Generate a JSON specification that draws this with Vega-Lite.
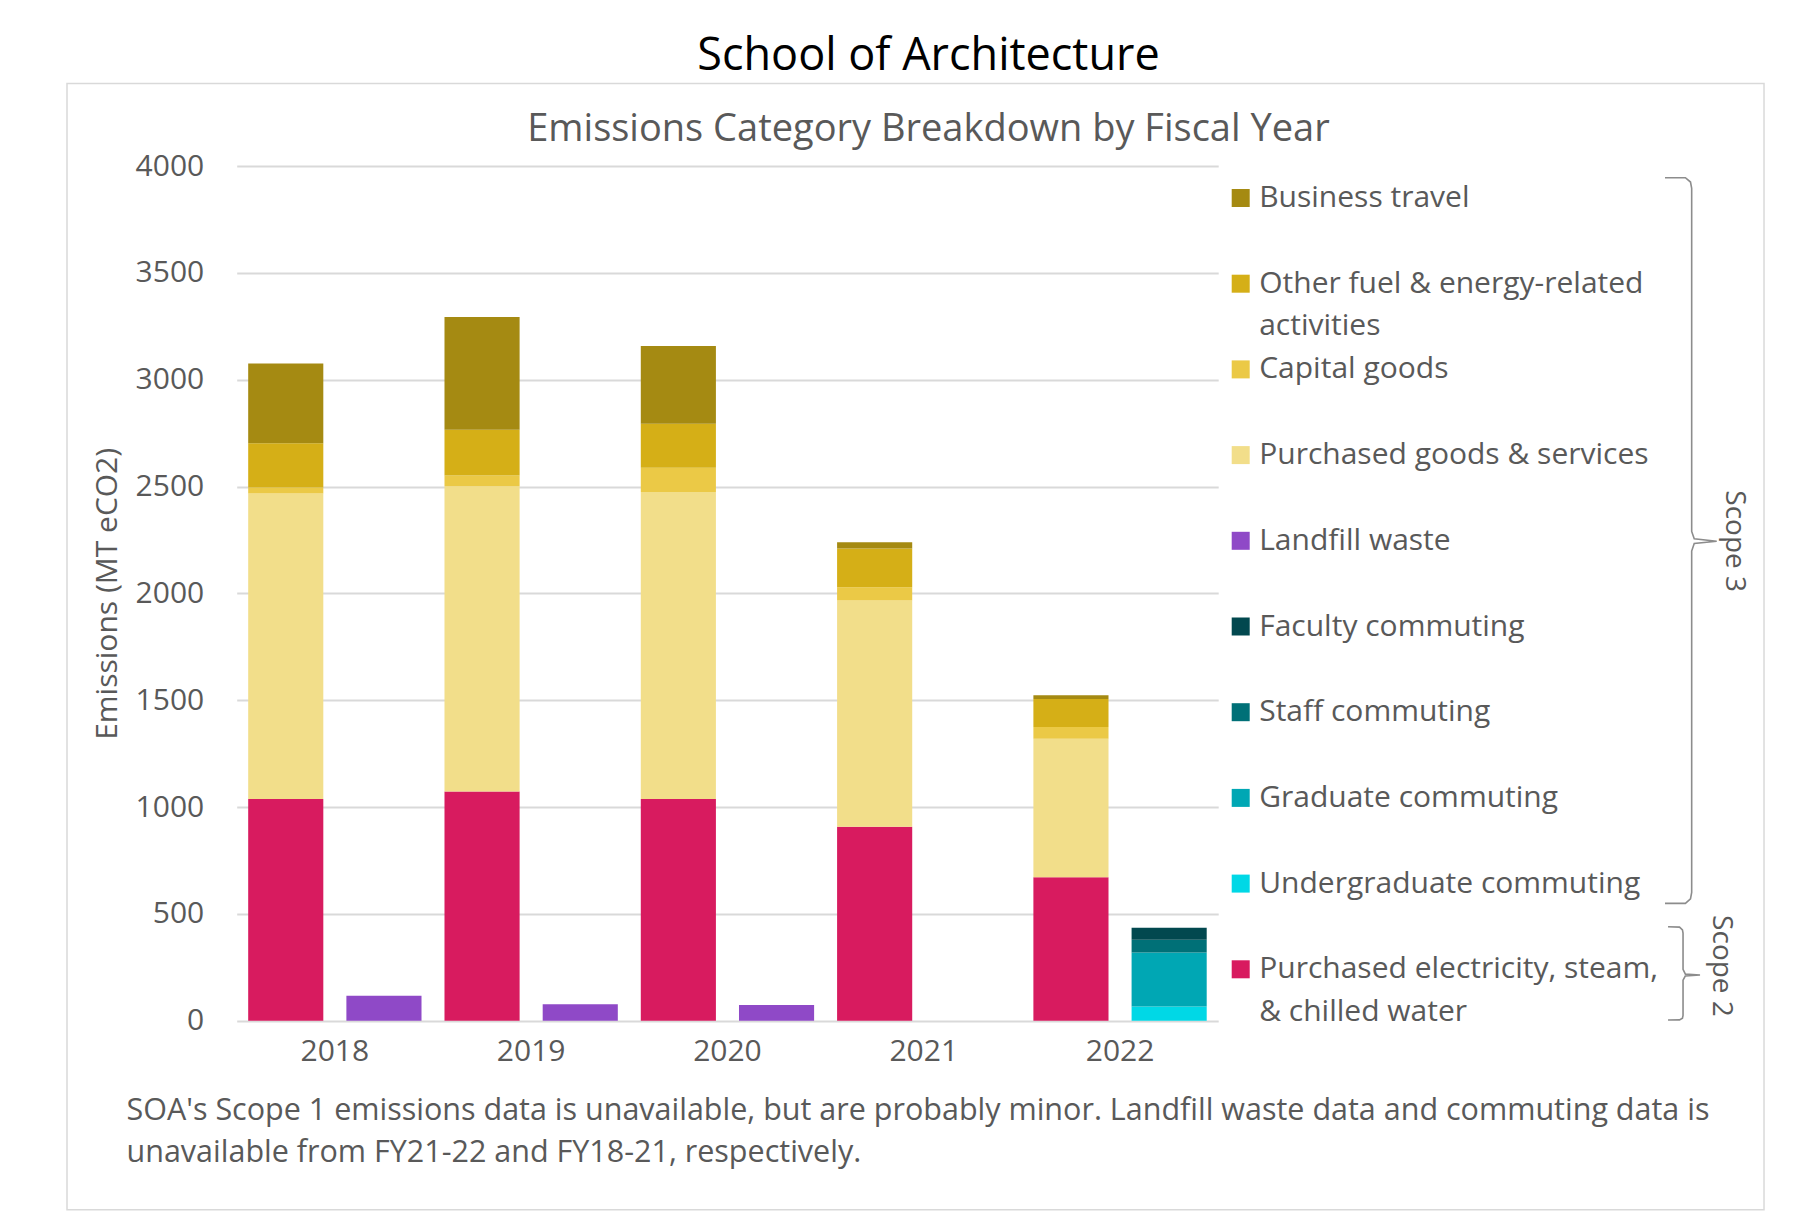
{
  "$schema": "https://vega.github.io/schema/vega-lite/v6.json",
  "autosize": {"type": "none"},
  "width": 981.5,
  "height": 854.7,
  "padding": {"left": 236.7, "top": 166, "right": 591.8, "bottom": 198.3},
  "background": "white",
  "title": {
    "text": "School of Architecture",
    "subtitle": "Emissions Category Breakdown by Fiscal Year",
    "fontSize": 45,
    "fontWeight": "normal",
    "color": "black",
    "font": "Open Sans",
    "subtitleFont": "Open Sans",
    "subtitleFontSize": 38,
    "subtitleColor": "#595959",
    "anchor": "middle",
    "frame": "group",
    "dx": 201,
    "offset": -66,
    "subtitlePadding": 32
  },
  "datasets": {
    "bars": [
      {"year": "2018", "grp": "A", "cat": "Purchased electricity, steam, & chilled water", "value": 1038},
      {"year": "2018", "grp": "A", "cat": "Purchased goods & services", "value": 1429},
      {"year": "2018", "grp": "A", "cat": "Capital goods", "value": 28},
      {"year": "2018", "grp": "A", "cat": "Other fuel & energy-related activities", "value": 208},
      {"year": "2018", "grp": "A", "cat": "Business travel", "value": 373},
      {"year": "2018", "grp": "B", "cat": "Landfill waste", "value": 117},
      {"year": "2019", "grp": "A", "cat": "Purchased electricity, steam, & chilled water", "value": 1073},
      {"year": "2019", "grp": "A", "cat": "Purchased goods & services", "value": 1428},
      {"year": "2019", "grp": "A", "cat": "Capital goods", "value": 51},
      {"year": "2019", "grp": "A", "cat": "Other fuel & energy-related activities", "value": 214},
      {"year": "2019", "grp": "A", "cat": "Business travel", "value": 527},
      {"year": "2019", "grp": "B", "cat": "Landfill waste", "value": 77},
      {"year": "2020", "grp": "A", "cat": "Purchased electricity, steam, & chilled water", "value": 1038},
      {"year": "2020", "grp": "A", "cat": "Purchased goods & services", "value": 1436},
      {"year": "2020", "grp": "A", "cat": "Capital goods", "value": 114},
      {"year": "2020", "grp": "A", "cat": "Other fuel & energy-related activities", "value": 206},
      {"year": "2020", "grp": "A", "cat": "Business travel", "value": 364},
      {"year": "2020", "grp": "B", "cat": "Landfill waste", "value": 74},
      {"year": "2021", "grp": "A", "cat": "Purchased electricity, steam, & chilled water", "value": 908},
      {"year": "2021", "grp": "A", "cat": "Purchased goods & services", "value": 1059},
      {"year": "2021", "grp": "A", "cat": "Capital goods", "value": 61},
      {"year": "2021", "grp": "A", "cat": "Other fuel & energy-related activities", "value": 182},
      {"year": "2021", "grp": "A", "cat": "Business travel", "value": 29},
      {"year": "2022", "grp": "A", "cat": "Purchased electricity, steam, & chilled water", "value": 671},
      {"year": "2022", "grp": "A", "cat": "Purchased goods & services", "value": 648},
      {"year": "2022", "grp": "A", "cat": "Capital goods", "value": 55},
      {"year": "2022", "grp": "A", "cat": "Other fuel & energy-related activities", "value": 131},
      {"year": "2022", "grp": "A", "cat": "Business travel", "value": 18},
      {"year": "2022", "grp": "B", "cat": "Undergraduate commuting", "value": 66},
      {"year": "2022", "grp": "B", "cat": "Graduate commuting", "value": 253},
      {"year": "2022", "grp": "B", "cat": "Staff commuting", "value": 60},
      {"year": "2022", "grp": "B", "cat": "Faculty commuting", "value": 56}
    ],
    "frame": [
      {"u1": -0.1729, "u2": 1.5561, "v1": 4386, "v2": -885}
    ],
    "brackets": [
      {"scope": "Scope 3", "p": 1, "u": 1.4552, "v": 3945},
      {"scope": "Scope 3", "p": 2, "u": 1.4760, "v": 3945},
      {"scope": "Scope 3", "p": 3, "u": 1.4812, "v": 3925},
      {"scope": "Scope 3", "p": 4, "u": 1.4824, "v": 3895},
      {"scope": "Scope 3", "p": 5, "u": 1.4824, "v": 2290},
      {"scope": "Scope 3", "p": 6, "u": 1.4850, "v": 2255},
      {"scope": "Scope 3", "p": 7, "u": 1.5079, "v": 2244},
      {"scope": "Scope 3", "p": 8, "u": 1.4850, "v": 2233},
      {"scope": "Scope 3", "p": 9, "u": 1.4824, "v": 2198},
      {"scope": "Scope 3", "p": 10, "u": 1.4824, "v": 600},
      {"scope": "Scope 3", "p": 11, "u": 1.4812, "v": 570},
      {"scope": "Scope 3", "p": 12, "u": 1.4760, "v": 549},
      {"scope": "Scope 3", "p": 13, "u": 1.4552, "v": 549},
      {"scope": "Scope 2", "p": 1, "u": 1.4583, "v": 440},
      {"scope": "Scope 2", "p": 2, "u": 1.4700, "v": 438},
      {"scope": "Scope 2", "p": 3, "u": 1.4730, "v": 425},
      {"scope": "Scope 2", "p": 4, "u": 1.4736, "v": 410},
      {"scope": "Scope 2", "p": 5, "u": 1.4736, "v": 240},
      {"scope": "Scope 2", "p": 6, "u": 1.4760, "v": 218},
      {"scope": "Scope 2", "p": 7, "u": 1.4909, "v": 214},
      {"scope": "Scope 2", "p": 8, "u": 1.4760, "v": 210},
      {"scope": "Scope 2", "p": 9, "u": 1.4736, "v": 190},
      {"scope": "Scope 2", "p": 10, "u": 1.4736, "v": 25},
      {"scope": "Scope 2", "p": 11, "u": 1.4730, "v": 12},
      {"scope": "Scope 2", "p": 12, "u": 1.4700, "v": 4},
      {"scope": "Scope 2", "p": 13, "u": 1.4583, "v": 3}
    ],
    "scopeLabels": [
      {"label": "Scope 3", "u": 1.5255, "v": 2244},
      {"label": "Scope 2", "u": 1.5118, "v": 256}
    ]
  },
  "layer": [
    {
      "data": {"name": "bars"},
      "transform": [
        {"calculate": "indexof(['Purchased electricity, steam, & chilled water','Purchased goods & services','Capital goods','Other fuel & energy-related activities','Business travel','Landfill waste','Undergraduate commuting','Graduate commuting','Staff commuting','Faculty commuting'], datum.cat)", "as": "ord"}
      ],
      "mark": {"type": "bar"},
      "encoding": {
        "x": {
          "field": "year",
          "type": "nominal",
          "scale": {"paddingInner": 0, "paddingOuter": 0},
          "axis": {
            "title": ["SOA's Scope 1 emissions data is unavailable, but are probably minor. Landfill waste data and commuting data is", "unavailable from FY21-22 and FY18-21, respectively."],
            "labelAngle": 0,
            "domain": false,
            "ticks": false,
            "tickSize": 0,
            "labelFontSize": 30,
            "labelColor": "#595959",
            "labelFont": "Open Sans",
            "labelPadding": 16,
            "titleFont": "Open Sans",
            "titleFontSize": 30.5,
            "titleColor": "#595959",
            "titleFontWeight": "normal",
            "titleAlign": "left",
            "titleAnchor": "start",
            "titleX": -110.7,
            "titleY": 90,
            "titleBaseline": "middle",
            "titleLineHeight": 41.5
          }
        },
        "xOffset": {"field": "grp", "type": "nominal", "scale": {"paddingInner": 0.235, "paddingOuter": 0.117}},
        "y": {
          "field": "value",
          "type": "quantitative",
          "stack": "zero",
          "scale": {"domain": [0, 4000]},
          "axis": {
            "title": "Emissions (MT eCO2)",
            "values": [0, 500, 1000, 1500, 2000, 2500, 3000, 3500, 4000],
            "format": "d",
            "grid": true,
            "gridColor": "#d9d9d9",
            "gridWidth": 2,
            "domain": false,
            "ticks": false,
            "tickSize": 0,
            "labelFontSize": 30,
            "labelFont": "Open Sans",
            "labelColor": "#595959",
            "labelPadding": 33,
            "titleFont": "Open Sans",
            "titleFontSize": 30,
            "titleColor": "#595959",
            "titleFontWeight": "normal",
            "titlePadding": 13
          }
        },
        "color": {
          "field": "cat",
          "type": "nominal",
          "scale": {
            "domain": ["Business travel", "Other fuel & energy-related activities", "Capital goods", "Purchased goods & services", "Landfill waste", "Faculty commuting", "Staff commuting", "Graduate commuting", "Undergraduate commuting", "Purchased electricity, steam, & chilled water"],
            "range": ["#A58A12", "#D5AF17", "#EBC946", "#F2DE8A", "#8F49C7", "#02484F", "#007077", "#00A7B4", "#00D8E6", "#D81B5F"]
          },
          "legend": {
            "title": null,
            "orient": "none",
            "legendX": 989,
            "legendY": 17,
            "padding": 0,
            "symbolType": "square",
            "symbolSize": 324,
            "symbolStrokeWidth": 0,
            "labelFont": "Open Sans",
            "labelFontSize": 30,
            "labelColor": "#595959",
            "labelOffset": 3.5,
            "labelLimit": 800,
            "gridAlign": "all",
            "rowPadding": 12.7,
            "labelExpr": "datum.label == 'Other fuel & energy-related activities' ? ['Other fuel & energy-related', 'activities'] : datum.label == 'Purchased electricity, steam, & chilled water' ? ['Purchased electricity, steam,', '& chilled water'] : datum.label"
          }
        },
        "order": {"field": "ord", "type": "quantitative", "sort": "ascending"}
      }
    },
    {
      "data": {"name": "frame"},
      "mark": {"type": "rect", "fill": null, "fillOpacity": 0, "stroke": "#d9d9d9", "strokeWidth": 1.5},
      "encoding": {
        "x": {"field": "u1", "type": "quantitative", "scale": {"domain": [0, 1]}, "axis": null},
        "x2": {"field": "u2"},
        "y": {"field": "v1", "type": "quantitative", "scale": {"domain": [0, 4000]}},
        "y2": {"field": "v2"}
      }
    },
    {
      "data": {"name": "brackets"},
      "mark": {"type": "line", "color": "#8c8c8c", "strokeWidth": 1.6},
      "encoding": {
        "x": {"field": "u", "type": "quantitative", "scale": {"domain": [0, 1]}, "axis": null},
        "y": {"field": "v", "type": "quantitative", "scale": {"domain": [0, 4000]}},
        "detail": {"field": "scope"},
        "order": {"field": "p", "type": "quantitative"}
      }
    },
    {
      "data": {"name": "scopeLabels"},
      "mark": {"type": "text", "angle": 90, "fontSize": 28, "font": "Open Sans", "color": "#595959", "align": "center", "baseline": "middle"},
      "encoding": {
        "x": {"field": "u", "type": "quantitative", "scale": {"domain": [0, 1]}, "axis": null},
        "y": {"field": "v", "type": "quantitative", "scale": {"domain": [0, 4000]}},
        "text": {"field": "label"}
      }
    }
  ],
  "resolve": {"scale": {"x": "independent"}},
  "config": {
    "font": "Open Sans",
    "view": {"stroke": null},
    "style": {"guide-label": {"lineHeight": 42.7}}
  }
}
